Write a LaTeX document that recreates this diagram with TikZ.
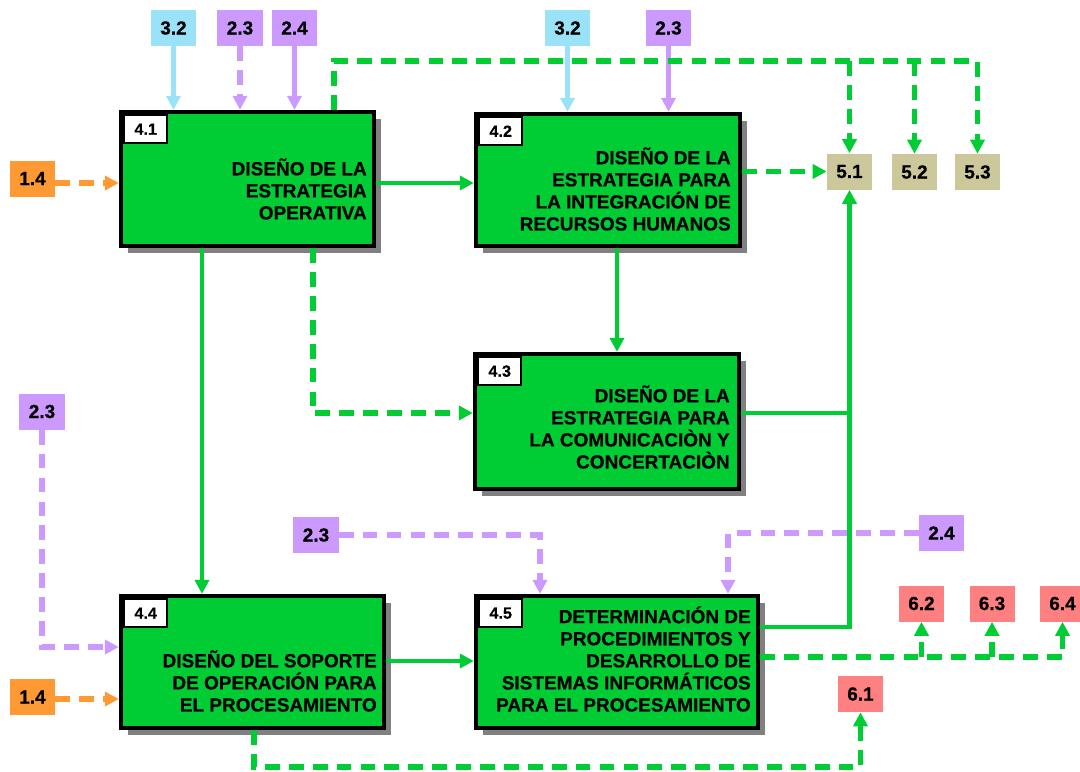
\documentclass[tikz,border=0pt]{standalone}
\usepackage{fontspec}
\setmainfont{Liberation Sans}[BoldFeatures={FakeBold=0.6}]
\usepackage{tikz}
\usetikzlibrary{positioning,arrows.meta,shadows}
\definecolor{verde}{RGB}{0,204,51}
\definecolor{celeste}{RGB}{153,226,248}
\definecolor{lila}{RGB}{204,153,255}
\definecolor{naranja}{RGB}{255,153,51}
\definecolor{arena}{RGB}{204,200,155}
\definecolor{rosa}{RGB}{255,128,128}

\begin{document}
\begin{tikzpicture}[x=0.025cm,y=-0.025cm,
    >={Triangle[length=10pt,width=10pt]},
    proc/.style={draw,line width=3pt,fill=verde,minimum height=3.3cm,
      drop shadow={shadow xshift=0.18cm,shadow yshift=-0.18cm,fill=black!50,opacity=1}},
    num/.style={draw,fill=white,line width=1.5pt,minimum width=1.08cm,minimum height=0.7cm,
      anchor=north west,inner sep=0pt,font=\bfseries\fontsize{11.5}{12}\selectfont},
    txt/.style={align=right,anchor=east,inner sep=0pt,font=\bfseries\fontsize{13.5}{15.7}\selectfont},
    ref/.style={minimum width=1.125cm,minimum height=0.9cm,inner sep=0pt,
      font=\bfseries\fontsize{13.5}{15.7}\selectfont},
    flow/.style={verde,line width=3pt},
    flowd/.style={verde,line width=3.6pt,dash pattern=on 10.5pt off 6.5pt},
    cel/.style={celeste,line width=3pt},
    lil/.style={lila,line width=3pt},
    lild/.style={lila,line width=3.6pt,dash pattern=on 10.5pt off 6.5pt},
    nard/.style={naranja,line width=3.6pt,dash pattern=on 10.5pt off 6.5pt}]
  \useasboundingbox (0,0) rectangle (1080,771);
  % procesos
  \node[proc,minimum width=6.325cm,minimum height=3.35cm] (b41) at (247.5,179) {};
  \node[proc,minimum width=6.6cm] (b42) at (608,180) {};
  \node[proc,minimum width=6.6cm,minimum height=3.375cm] (b43) at (607,421.5) {};
  \node[proc,minimum width=6.575cm] (b44) at (252.5,662) {};
  \node[proc,minimum width=7.05cm] (b45) at (617,662) {};
  \node[num] (n41) at ([shift={(3pt,-3pt)}]b41.north west) {4.1};
  \node[num] (n42) at ([shift={(3pt,-3pt)}]b42.north west) {4.2};
  \node[num] (n43) at ([shift={(3pt,-3pt)}]b43.north west) {4.3};
  \node[num] (n44) at ([shift={(3pt,-3pt)}]b44.north west) {4.4};
  \node[num] (n45) at ([shift={(3pt,-3pt)}]b45.north west) {4.5};
  \node[txt] (t41) at (367,189) {DISEÑO DE LA\\ESTRATEGIA\\OPERATIVA};
  \node[txt] (t42) at (731,189) {DISEÑO DE LA\\ESTRATEGIA PARA\\LA INTEGRACIÓN DE\\RECURSOS HUMANOS};
  \node[txt] (t43) at (730,427) {DISEÑO DE LA\\ESTRATEGIA PARA\\LA COMUNICACIÒN Y\\CONCERTACIÒN};
  \node[txt] (t44) at (377,681) {DISEÑO DEL SOPORTE\\DE OPERACIÓN PARA\\EL PROCESAMIENTO};
  \node[txt] (t45) at (751,659) {DETERMINACIÓN DE\\PROCEDIMIENTOS Y\\DESARROLLO DE\\SISTEMAS INFORMÁTICOS\\PARA EL PROCESAMIENTO};
  % referencias
  \node[ref,fill=celeste] (a32) at (173.5,28) {3.2};
  \node[ref,fill=lila] (a23) at (240,28) {2.3};
  \node[ref,fill=lila] (a24) at (294.5,28) {2.4};
  \node[ref,fill=celeste] (c32) at (567.5,28) {3.2};
  \node[ref,fill=lila] (c23) at (668.5,28) {2.3};
  \node[ref,fill=naranja] (a14) at (32.5,178.5) {1.4};
  \node[ref,fill=arena] (s51) at (849.5,171.5) {5.1};
  \node[ref,fill=arena] (s52) at (914.5,172) {5.2};
  \node[ref,fill=arena] (s53) at (977.5,172) {5.3};
  \node[ref,fill=lila] (d23) at (42,411.5) {2.3};
  \node[ref,fill=lila] (e23) at (316,535) {2.3};
  \node[ref,fill=lila] (e24) at (941.5,533) {2.4};
  \node[ref,fill=naranja] (d14) at (32.5,697) {1.4};
  \node[ref,fill=rosa] (s61) at (860.5,694) {6.1};
  \node[ref,fill=rosa] (s62) at (921.5,603.5) {6.2};
  \node[ref,fill=rosa] (s63) at (992,603.5) {6.3};
  \node[ref,fill=rosa] (s64) at (1062.5,603.5) {6.4};
  % entradas
  \draw[cel,->] (a32.south) -- (a32.south |- b41.north);
  \draw[lild,->] (a23.south) -- (a23.south |- b41.north);
  \draw[lil,->] (a24.south) -- (a24.south |- b41.north);
  \draw[cel,->] (c32.south) -- (c32.south |- b42.north);
  \draw[lil,->] (c23.south) -- (c23.south |- b42.north);
  \draw[nard,->] (a14.east |- 0,183) -- (b41.west |- 0,183);
  \draw[lild,->] (d23.south) |- (b44.west |- 0,647);
  \draw[nard,->] (d14.east |- 0,699) -- (b44.west |- 0,699);
  \draw[lild,->] (e23.east) -| (b45.north -| 540,0);
  \draw[lild,->] (e24.west) -| (b45.north -| 728,0);
  % flujos
  \coordinate (k1) at (334,61);
  \draw[flowd,->] (b41.north -| k1) |- (s53.north |- k1) -- (s53.north);
  \draw[flowd,->] (s51.north |- k1) -- (s51.north);
  \draw[flowd,->] (s52.north |- k1) -- (s52.north);
  \draw[flow,->] (b41.east |- 0,183) -- (b42.west |- 0,183);
  \draw[flowd,->] (b42.east |- s51) -- (s51.west);
  \draw[flow,->] (b42.south -| 617,0) -- (b43.north -| 617,0);
  \draw[flowd,->] (b41.south -| 313,0) |- (b43.west |- 0,413);
  \draw[flow,->] (b41.south -| 202,0) -- (b44.north -| 202,0);
  \coordinate (k2) at (849.5,413);
  \draw[flow] (b43.east |- k2) -- (k2);
  \draw[flow,->] (b45.east |- 0,627) -| (s51.south);
  \draw[flow,->] (b44.east |- 0,661) -- (b45.west |- 0,661);
  \coordinate (k3) at (1062.5,657);
  \draw[flowd,->] (b45.east |- k3) -| (s64.south);
  \draw[flowd,->] (s62.south |- k3) -- (s62.south);
  \draw[flowd,->] (s63.south |- k3) -- (s63.south);
  \coordinate (k4) at (254,767);
  \draw[flowd,->] (b44.south -| k4) |- (s61.south |- k4) -- (s61.south);
\end{tikzpicture}
\end{document}
